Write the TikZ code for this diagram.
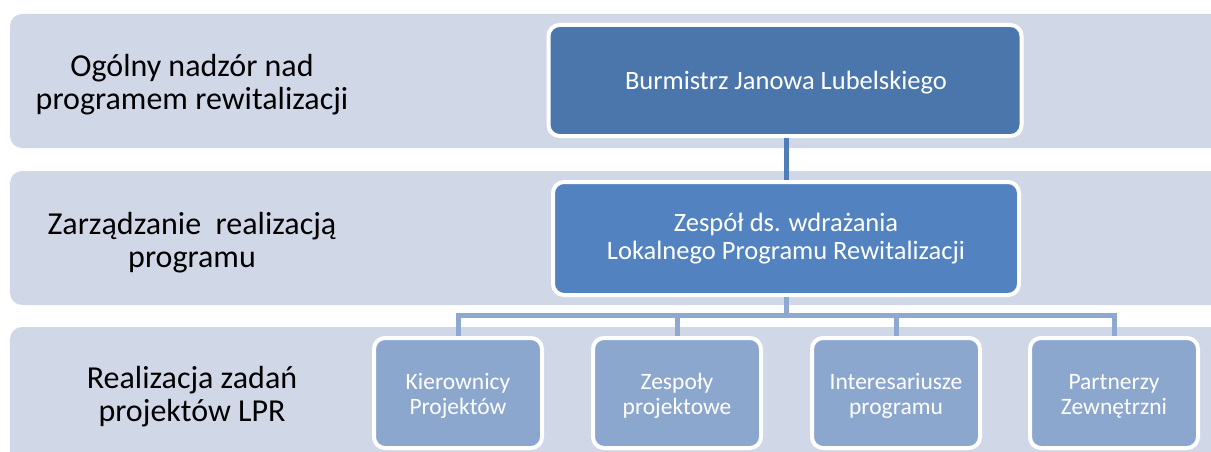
\documentclass[tikz,border=0pt]{standalone}
\usepackage{fontspec}
\setmainfont{Carlito}
\definecolor{band}{HTML}{D0D8E8}
\definecolor{topbox}{HTML}{4A76AC}
\definecolor{midbox}{HTML}{5282BF}
\definecolor{lowbox}{HTML}{8BA7CE}
\definecolor{upline}{HTML}{4F7DB8}
\definecolor{lowline}{HTML}{8DA9D0}
\tikzset{
  bandbg/.style={fill=band, draw=none, rounded corners=12pt},
  lbl/.style={align=center, text=black, anchor=base, inner sep=0pt, font=\fontsize{32}{33}\selectfont},
  boxshape/.style={draw=white, line width=4pt, rounded corners=11pt, inner sep=0pt},
  bigtxt/.style={align=center, text=white, anchor=base, inner sep=0pt, font=\fontsize{26.5}{28}\selectfont},
  smalltxt/.style={align=center, text=white, anchor=base, inner sep=0pt, font=\fontsize{23.5}{25}\selectfont},
  smallbox/.style={boxshape, fill=lowbox, minimum width=168pt, minimum height=110pt},
  upconn/.style={draw=upline, line width=5pt},
  lowconn/.style={draw=lowline, line width=5pt},
}
\begin{document}
\begin{tikzpicture}[x=1pt,y=-1pt]
\clip (0,0) rectangle (1211,452);
\fill[white] (0,0) rectangle (1211,452);
% bands
\path[bandbg] (10,14) rectangle (1240,148);
\path[bandbg] (10,171) rectangle (1240,305);
\path[bandbg] (10,327) rectangle (1240,480);
% labels (anchor = baseline of the last line)
\node[lbl] (l1) at (192,110) {Ogólny nadzór nad\\programem rewitalizacji};
\node[lbl] (l2) at (192,267) {Zarządzanie\ \ realizacją\\programu};
\node[lbl] (l3) at (192,421) {Realizacja zadań\\projektów LPR};
% boxes
\node[boxshape, fill=topbox, minimum width=473pt, minimum height=111pt] (b1) at (785,80.5) {};
\node[boxshape, fill=midbox, minimum width=466pt, minimum height=113pt] (b2) at (786,238.5) {};
\node[smallbox] (c1) at (458,393) {};
\node[smallbox] (c2) at (677,393) {};
\node[smallbox] (c3) at (896,393) {};
\node[smallbox] (c4) at (1114,393) {};
% box texts
\node[bigtxt] (t1) at (786,89) {Burmistrz Janowa Lubelskiego};
\node[bigtxt] (t2) at (786,259) {Zespół ds. wdrażania\\Lokalnego Programu Rewitalizacji};
\node[smalltxt] (s1) at (458,414) {Kierownicy\\Projektów};
\node[smalltxt] (s2) at (677,414) {Zespoły\\projektowe};
\node[smalltxt] (s3) at (896,414) {Interesariusze\\programu};
\node[smalltxt] (s4) at (1114,414) {Partnerzy\\Zewnętrzni};
% connectors
\coordinate (hub) at (786,315.5);
\draw[upconn] (b1.south -| hub) -- (b2.north -| hub);
\draw[lowconn] (b2.south -| hub) -- (hub);
\draw[lowconn] (c1.north) -- (c1.north |- hub) -- (c4.north |- hub) -- (c4.north);
\draw[lowconn] (c2.north) -- (c2.north |- hub);
\draw[lowconn] (c3.north) -- (c3.north |- hub);
\end{tikzpicture}
\end{document}
